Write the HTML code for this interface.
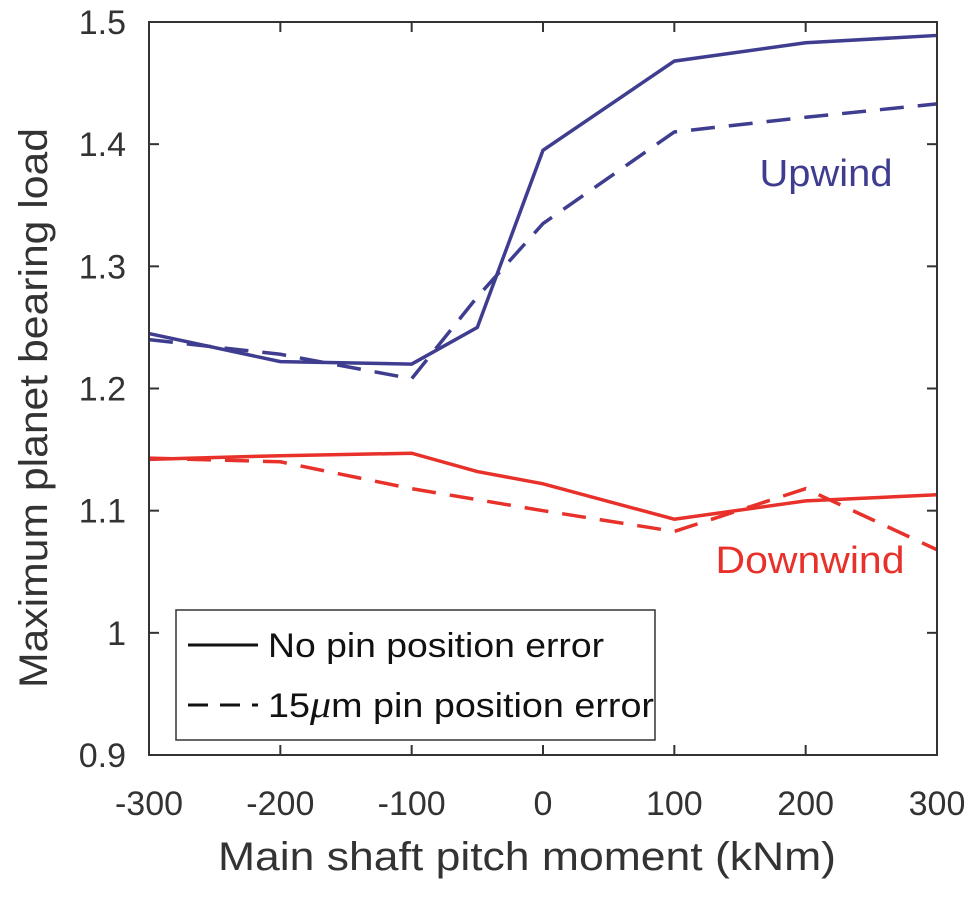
<!DOCTYPE html>
<html><head><meta charset="utf-8"><style>
body{margin:0;background:#fff;}
svg text{font-family:"Liberation Sans",sans-serif;fill:#333;}
</style></head><body>
<svg width="976" height="899">
<g id="axes"></g>
<g id="series"></g>
<rect x="149" y="22" width="788" height="733" fill="none" stroke="#333" stroke-width="2"/>
<text x="527" y="870" font-size="40" text-anchor="middle" textLength="618" lengthAdjust="spacingAndGlyphs">Main shaft pitch moment (kNm)</text>
<text transform="translate(47,408) rotate(-90)" font-size="40" text-anchor="middle" textLength="560" lengthAdjust="spacingAndGlyphs">Maximum planet bearing load</text>
<text x="826" y="186" font-size="38" text-anchor="middle" textLength="133" lengthAdjust="spacingAndGlyphs" style="fill:#3f3d8f">Upwind</text>
<text x="810" y="573" font-size="38" text-anchor="middle" textLength="189" lengthAdjust="spacingAndGlyphs" style="fill:#e8312a">Downwind</text>
<g>
<rect x="176" y="610" width="479" height="130" fill="#fff" stroke="#333" stroke-width="1.5"/>
<line x1="188" y1="645" x2="258" y2="645" stroke="#111" stroke-width="3"/>
<text x="268" y="657" font-size="34" textLength="336" lengthAdjust="spacingAndGlyphs" style="fill:#111">No pin position error</text>
<line x1="188" y1="705" x2="258" y2="705" stroke="#111" stroke-width="3" stroke-dasharray="20,12"/>
<text x="268" y="717" font-size="34" textLength="386" lengthAdjust="spacingAndGlyphs" style="fill:#111">15<tspan font-family="Liberation Serif" font-style="italic" font-size="38">μ</tspan>m pin position error</text>
</g>
</svg>
<script>
const xCats=[-300,-200,-100,-50,0,100,200,300];
const upSolid=[1.245,1.222,1.220,1.250,1.395,1.468,1.483,1.489];
const upDash=[1.240,1.228,1.208,1.275,1.335,1.410,1.422,1.433];
const dnSolid=[1.142,1.145,1.147,1.132,1.122,1.093,1.108,1.113];
const dnDash=[1.143,1.140,1.118,1.109,1.100,1.083,1.118,1.068];
const xTicks=[-300,-200,-100,0,100,200,300];
const yTicks=[0.9,1,1.1,1.2,1.3,1.4,1.5];
const yTickLabels=["0.9","1","1.1","1.2","1.3","1.4","1.5"];
const X=v=>149+(v+300)/600*788;
const Y=v=>755-(v-0.9)/0.6*733;
const ns="http://www.w3.org/2000/svg";
const ax=document.getElementById('axes'),se=document.getElementById('series');
function mk(t,a,p){const e=document.createElementNS(ns,t);for(const k in a)e.setAttribute(k,a[k]);p.appendChild(e);return e;}
xTicks.forEach(v=>{
 const l=mk('line',{x1:X(v),x2:X(v),y1:755,y2:745,stroke:'#333','stroke-width':2},ax);
 
 
 const l2=mk('line',{x1:X(v),x2:X(v),y1:22,y2:32,stroke:'#333','stroke-width':2},ax);
 
 
 const t=mk('text',{x:X(v),y:815,'font-size':34,'text-anchor':'middle'},ax);t.textContent=String(v);
 
 
});
yTicks.forEach((v,i)=>{
 const l=mk('line',{x1:149,x2:159,y1:Y(v),y2:Y(v),stroke:'#333','stroke-width':2},ax);
 
 
 const l2=mk('line',{x1:927,x2:937,y1:Y(v),y2:Y(v),stroke:'#333','stroke-width':2},ax);
 
 
 const t=mk('text',{x:126,y:Y(v)+12,'font-size':34,'text-anchor':'end'},ax);t.textContent=yTickLabels[i];
 
 
});
function line(vals,color,dash,name){
 const p=mk('polyline',{points:xCats.map((x,i)=>X(x)+','+Y(vals[i])).join(' '),fill:'none',stroke:color,'stroke-width':3.5},se);
 if(dash)p.setAttribute('stroke-dasharray','24,14');
 
 
}
line(upSolid,'#3f3d8f',false,'upwind-no-error-line');
line(upDash,'#3f3d8f',true,'upwind-15um-error-line');
line(dnSolid,'#e8312a',false,'downwind-no-error-line');
line(dnDash,'#e8312a',true,'downwind-15um-error-line');
</script>
</body></html>
